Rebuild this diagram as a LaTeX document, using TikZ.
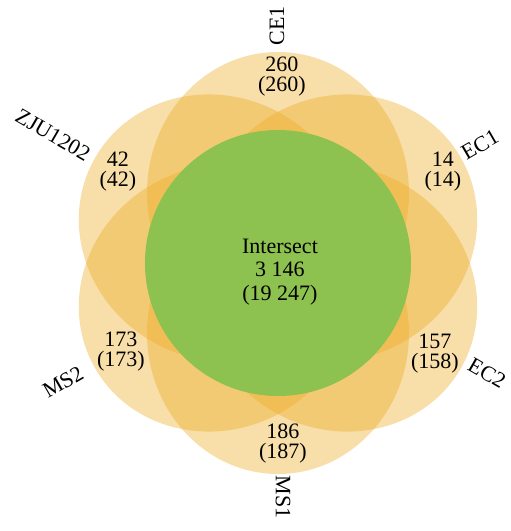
\documentclass[tikz,border=0pt]{standalone}
\usepackage{fontspec}
\setmainfont{Liberation Serif}
\definecolor{petalc}{RGB}{237,172,38}
\definecolor{greenc}{RGB}{141,193,80}
\begin{document}
\begin{tikzpicture}[x=1pt,y=1pt,
  petal/.style={fill=petalc, fill opacity=0.4},
  core/.style={fill=greenc},
  num/.style={inner sep=0pt, align=center, font=\fontsize{22}{20}\selectfont},
  mid/.style={inner sep=0pt, align=center, font=\fontsize{22}{23.5}\selectfont},
  setname/.style={inner sep=0pt, font=\fontsize{22}{22}\selectfont}]
\useasboundingbox (-278,-268) rectangle (233,263);
\foreach \ang in {90,30,-30,-90,-150,150}{
  \fill[petal, rotate=\ang] (70,0) ellipse [x radius=141, y radius=131];
}
\fill[core] (0,0) circle [radius=133];
\node[mid] (inter) at (2,-9) {Intersect\\3 146\\(19 247)};
\node[num] (nce1) at (4,186) {260\\(260)};
\node[num] (nec1) at (165,91) {14\\(14)};
\node[num] (nec2) at (157,-91) {157\\(158)};
\node[num] (nms1) at (5,-181) {186\\(187)};
\node[num] (nms2) at (-157,-89) {173\\(173)};
\node[num] (nzju) at (-160,91) {42\\(42)};
\node[setname, rotate=90] (lce1) at (-1,237) {CE1};
\node[setname, rotate=30] (lec1) at (202,118) {EC1};
\node[setname, rotate=-30] (lec2) at (209,-110) {EC2};
\node[setname, rotate=-90] (lms1) at (5,-234) {MS1};
\node[setname, rotate=30] (lms2) at (-215,-119) {MS2};
\node[setname, rotate=-30] (lzju) at (-225,128) {ZJU1202};
\end{tikzpicture}
\end{document}
